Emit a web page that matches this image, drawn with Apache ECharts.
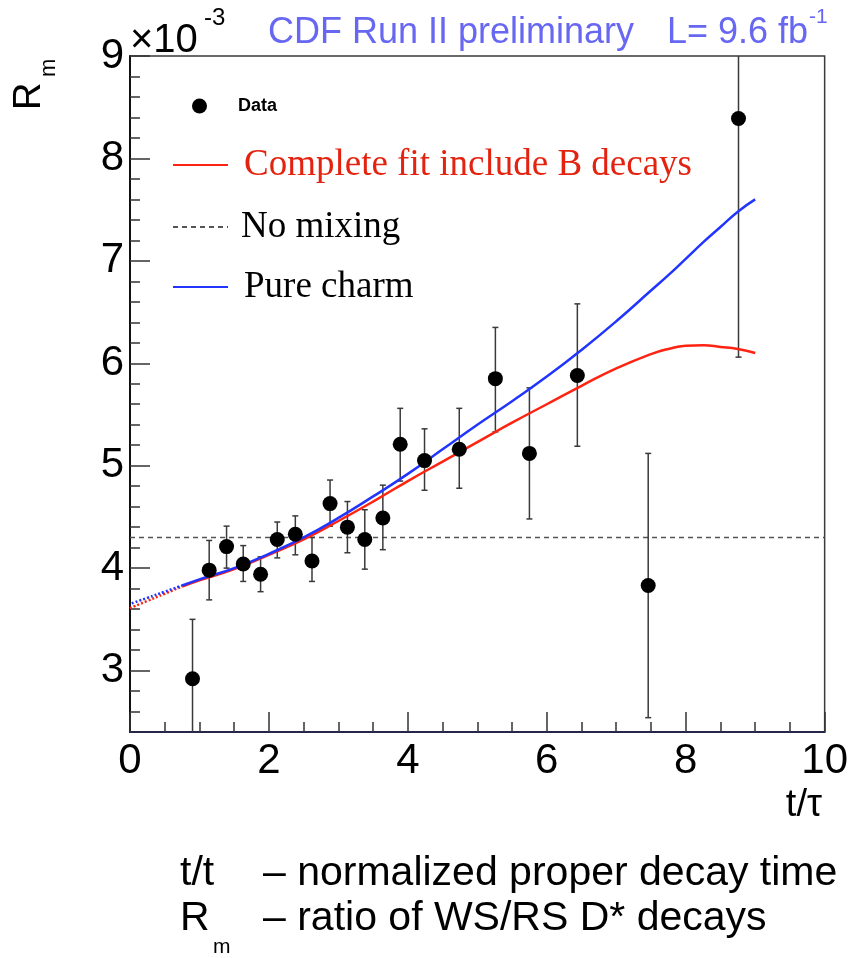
<!DOCTYPE html>
<html>
<head>
<meta charset="utf-8">
<script src="https://cdn.jsdelivr.net/npm/echarts@6/dist/echarts.min.js"></script>
<style>
html, body { margin: 0; padding: 0; background: #fff; }
#main { width: 851px; height: 958px; }
</style>
</head>
<body>
<div id="main"></div>
<script>
// measured points: t/tau, Rm (x10^-3), ends of the error bars
let dataX   = [0.90, 1.14, 1.39, 1.63, 1.88, 2.12, 2.38, 2.62, 2.88, 3.13, 3.38, 3.64, 3.89, 4.24, 4.74, 5.26, 5.75, 6.44, 7.46, 8.76];
let dataY   = [2.92, 3.98, 4.21, 4.04, 3.94, 4.28, 4.33, 4.07, 4.63, 4.40, 4.28, 4.49, 5.21, 5.05, 5.16, 5.85, 5.12, 5.88, 3.83, 8.39];
let errLow  = [2.34, 3.69, 4.00, 3.87, 3.77, 4.10, 4.13, 3.87, 4.41, 4.15, 3.99, 4.18, 4.85, 4.76, 4.78, 5.33, 4.48, 5.19, 2.54, 6.06];
let errHigh = [3.50, 4.27, 4.41, 4.22, 4.11, 4.45, 4.51, 4.30, 4.86, 4.65, 4.57, 4.81, 5.56, 5.36, 5.56, 6.35, 5.76, 6.58, 5.12, 10.72];

// fit curves, solid part
let fitX     = [0.75, 1, 1.5, 2, 2.5, 3, 3.5, 4, 4.5, 5, 5.5, 6, 6.5, 7, 7.5, 7.75, 8, 8.25, 8.5, 8.75, 9];
let fitFull  = [3.82, 3.88, 3.99, 4.13, 4.28, 4.46, 4.65, 4.85, 5.04, 5.23, 5.42, 5.60, 5.78, 5.95, 6.09, 6.14, 6.17, 6.175, 6.16, 6.14, 6.10];
let fitCharm = [3.83, 3.89, 4.00, 4.14, 4.30, 4.49, 4.70, 4.92, 5.16, 5.40, 5.63, 5.87, 6.13, 6.41, 6.71, 6.86, 7.02, 7.18, 7.33, 7.48, 7.60];
// dotted extrapolation down to t = 0
let extX     = [0, 0.25, 0.5, 0.75];
let extFull  = [3.61, 3.68, 3.75, 3.82];
let extCharm = [3.65, 3.71, 3.77, 3.83];

// no mixing level
let noMixX = [0, 10];
let noMixY = [4.3, 4.3];

// tick labels
let yMajor = [3, 4, 5, 6, 7, 8, 9];
let yMinor = [2.6, 2.8, 3.0, 3.2, 3.4, 3.6, 3.8, 4.0, 4.2, 4.4, 4.6, 4.8, 5.0, 5.2, 5.4, 5.6, 5.8, 6.0, 6.2, 6.4, 6.6, 6.8, 7.0, 7.2, 7.4, 7.6, 7.8, 8.0, 8.2, 8.4, 8.6, 8.8];

let SANS = '"Liberation Sans", Arial, Helvetica, sans-serif';
let SERIF = '"Liberation Serif", "Times New Roman", serif';
let RED = '#ff2312';
let BLUE = '#2135ff';

function pairs(xs, ys) {
	return xs.map((x, i) => [x, ys[i]]);
}

var myChart = echarts.init(document.getElementById('main'));

// 普通文字
function txt(x, y, text, size, color, align) {
	return {
		type: 'text', x: x, y: y,
		style: {
			text: text, fill: color || '#000',
			font: size + 'px ' + SANS,
			align: align || 'left', verticalAlign: 'middle',
			textAlign: align || 'left', textVerticalAlign: 'middle'
		}
	};
}

// legend rows share the same look
function legendRow(name, top, color, pad, font, size) {
	return {
		data: [name], selectedMode: false, padding: 0,
		left: 172, top: top, itemWidth: 55, itemHeight: 14,
		itemStyle: { opacity: 0 },
		textStyle: { fontFamily: font, fontSize: size, lineHeight: 40, color: color, padding: [0, 0, 0, pad] }
	};
}

var option = {
	animation: false,
	backgroundColor: '#fff',
	grid: {
		left: 130, top: 56, width: 695, height: 676,
		show: true, borderColor: '#3a3a3a', borderWidth: 1.5, backgroundColor: 'transparent'
	},
	xAxis: {
		type: 'value', min: 0, max: 10, interval: 2,
		axisLine: { lineStyle: { color: '#26264a', width: 2 } },
		axisTick: { inside: true, length: 20, lineStyle: { color: '#333', width: 1.5 } },
		minorTick: { show: true, splitNumber: 4, length: 10, lineStyle: { color: '#333', width: 1.5 } },
		axisLabel: { fontSize: 42, fontFamily: SANS, color: '#000', margin: 8 },
		splitLine: { show: false }
	},
	yAxis: [{
		type: 'value', min: 2.4, max: 9,
		axisLine: { show: true, lineStyle: { color: '#111', width: 2 } },
		axisTick: { show: true, inside: true, length: 20, customValues: yMajor, lineStyle: { color: '#333', width: 1.5 } },
		axisLabel: { customValues: yMajor, fontSize: 42, fontFamily: SANS, color: '#000', margin: 6 },
		splitLine: { show: false }
	}, {
		type: 'value', min: 2.4, max: 9, position: 'left',
		axisLine: { show: false },
		axisTick: { show: true, inside: true, length: 10, customValues: yMinor, lineStyle: { color: '#333', width: 1.5 } },
		axisLabel: { show: false },
		splitLine: { show: false }
	}],
	legend: [{
		data: ['Data'], selectedMode: false, padding: 0,
		left: 192, top: 97, icon: 'circle', itemWidth: 15, itemHeight: 15,
		itemStyle: { color: '#000', opacity: 1 },
		textStyle: { fontFamily: SANS, fontWeight: 'bold', fontSize: 18, lineHeight: 18, color: '#000', padding: [0, 0, 0, 26] }
	},
		legendRow('Complete fit include B decays', 145, '#e3230f', 11, SERIF, 37),
		legendRow('No mixing', 207, '#000', 8, SERIF, 37),
		legendRow('Pure charm', 267, '#000', 11, SERIF, 37)
	],
	graphic: [
		txt(268, 33, 'CDF Run II preliminary', 36, '#6767f2'),
		txt(667, 33, 'L= 9.6 fb', 36, '#6767f2'),
		txt(809, 17, '-1', 21, '#6767f2'),
		txt(130, 41, '×10', 40, '#000'),
		txt(204, 18, '-3', 24, '#000'),
		{
			type: 'group', x: 43, y: 110, rotation: Math.PI / 2,
			children: [txt(0, -13, 'R', 38, '#000'), txt(33, 6, 'm', 22, '#000')]
		},
		txt(822, 806, 't/τ', 38, '#000', 'right'),
		txt(180, 874, 't/t', 41, '#000'),
		txt(263, 874, '– normalized proper decay time', 41, '#000'),
		txt(180, 919, 'R', 41, '#000'),
		txt(213, 947, 'm', 21, '#000'),
		txt(263, 919, '– ratio of WS/RS D* decays', 41, '#000')
	],
	series: [{
		name: 'No mixing', type: 'line',
		data: pairs(noMixX, noMixY),
		symbol: 'none', showSymbol: false,
		lineStyle: { color: '#555', width: 1.5, type: [5, 4] },
		itemStyle: { color: '#555' },
		z: 1
	}, {
		name: 'errors', type: 'custom', clip: true,
		data: dataX.map((x, i) => [x, errLow[i], errHigh[i]]),
		encode: { x: 0, y: [1, 2] },
		renderItem: function (params, api) {
			let lo = api.coord([api.value(0), api.value(1)]);
			let hi = api.coord([api.value(0), api.value(2)]);
			let cap = 3;
			let st = { stroke: '#3a3a3a', lineWidth: 1.5 };
			return {
				type: 'group', children: [
					{ type: 'line', shape: { x1: lo[0], y1: lo[1], x2: hi[0], y2: hi[1] }, style: st },
					{ type: 'line', shape: { x1: lo[0] - cap, y1: lo[1], x2: lo[0] + cap, y2: lo[1] }, style: st },
					{ type: 'line', shape: { x1: hi[0] - cap, y1: hi[1], x2: hi[0] + cap, y2: hi[1] }, style: st }
				]
			};
		},
		z: 2
	}, {
		name: 'full ext', type: 'line',
		data: pairs(extX, extFull), symbol: 'none', smooth: true,
		lineStyle: { color: RED, width: 2.5, type: [2, 2] },
		z: 3
	}, {
		name: 'charm ext', type: 'line',
		data: pairs(extX, extCharm), symbol: 'none', smooth: true,
		lineStyle: { color: BLUE, width: 2.5, type: [2, 2], dashOffset: 2 },
		z: 3
	}, {
		name: 'Complete fit include B decays', type: 'line',
		data: pairs(fitX, fitFull), symbol: 'none', showSymbol: false, smooth: true,
		lineStyle: { color: RED, width: 2.5 },
		itemStyle: { color: RED },
		z: 3
	}, {
		name: 'Pure charm', type: 'line',
		data: pairs(fitX, fitCharm), symbol: 'none', showSymbol: false, smooth: true,
		lineStyle: { color: BLUE, width: 2.5 },
		itemStyle: { color: BLUE },
		z: 4
	}, {
		name: 'Data', type: 'scatter',
		data: pairs(dataX, dataY),
		symbolSize: 15,
		itemStyle: { color: '#000', opacity: 1 },
		z: 5
	}]
};

myChart.setOption(option);
</script>
</body>
</html>
